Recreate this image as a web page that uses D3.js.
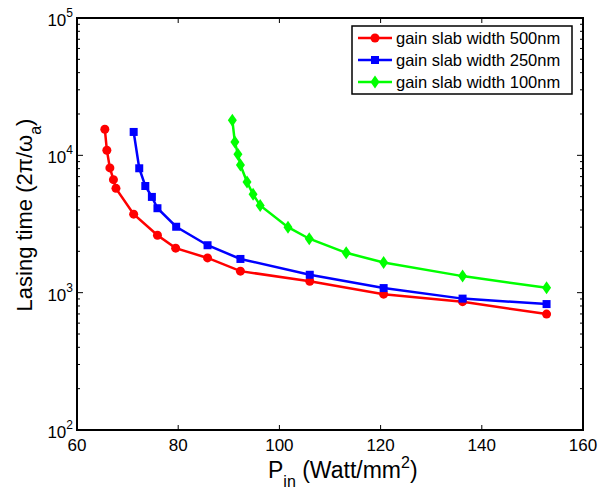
<!DOCTYPE html>
<html>
<head>
<meta charset="utf-8">
<script src="https://cdn.jsdelivr.net/npm/d3@7"></script>
<style>
  body { margin: 0; background: #fff; }
  text { font-family: "Liberation Sans", Arial, sans-serif; }
</style>
</head>
<body>
<div id="chart"></div>
<script>
// data
var red_x = [65.5, 65.9, 66.5, 67.2, 67.7, 71.2, 75.9, 79.5, 85.8, 92.3, 106.0, 120.6, 136.2, 152.8];
var red_y = [15500, 10900, 8100, 6650, 5750, 3730, 2620, 2110, 1790, 1435, 1210, 975, 860, 698];

var blue_x = [71.2, 72.3, 73.5, 74.8, 75.9, 79.6, 85.8, 92.3, 106.0, 120.6, 136.2, 152.8];
var blue_y = [14800, 8050, 5980, 4980, 4120, 3020, 2215, 1760, 1350, 1080, 905, 826];

var green_x = [90.7, 91.2, 91.8, 92.3, 93.6, 94.8, 96.2, 101.7, 105.9, 113.2, 120.6, 136.2, 152.8];
var green_y = [18000, 12500, 10200, 8500, 6400, 5200, 4320, 3000, 2470, 1950, 1660, 1320, 1085];

var series_names = ["gain slab width 500nm", "gain slab width 250nm", "gain slab width 100nm"];
var series_colors = ["#ff0000", "#0000ff", "#00ff00"];
var series_marks = ["circle", "square", "diamond"];

var x_ticks = [60, 80, 100, 120, 140, 160];
var y_decades = [2, 3, 4, 5];

var width = 600, height = 497;
var margin = {left: 77, right: 17, top: 18, bottom: 67};

var svg = d3.select("#chart").append("svg")
  .attr("width", width)
  .attr("height", height);

var x = d3.scaleLinear().domain([60, 160]).range([margin.left, width - margin.right]);
var y = d3.scaleLog().domain([100, 100000]).range([height - margin.bottom, margin.top]);

var x0 = margin.left, x1 = width - margin.right;
var y0 = height - margin.bottom, y1 = margin.top;

// ticks (inward, on all four sides)
var g = svg.append("g").attr("stroke", "#000").attr("stroke-width", 1);
x_ticks.forEach(function(t) {
  g.append("line").attr("x1", x(t)).attr("x2", x(t)).attr("y1", y0).attr("y2", y0 - 5);
  g.append("line").attr("x1", x(t)).attr("x2", x(t)).attr("y1", y1).attr("y2", y1 + 5);
});
var minor = [];
for (var e = 2; e < 5; e++) {
  for (var m = 2; m <= 9; m++) minor.push(m * Math.pow(10, e));
}
y_decades.forEach(function(d) {
  var v = Math.pow(10, d);
  g.append("line").attr("x1", x0).attr("x2", x0 + 6).attr("y1", y(v)).attr("y2", y(v));
  g.append("line").attr("x1", x1).attr("x2", x1 - 6).attr("y1", y(v)).attr("y2", y(v));
});
minor.forEach(function(v) {
  g.append("line").attr("x1", x0).attr("x2", x0 + 3).attr("y1", y(v)).attr("y2", y(v));
  g.append("line").attr("x1", x1).attr("x2", x1 - 3).attr("y1", y(v)).attr("y2", y(v));
});

// box
svg.append("rect")
  .attr("x", x0).attr("y", y1)
  .attr("width", x1 - x0).attr("height", y0 - y1)
  .attr("fill", "none").attr("stroke", "#000").attr("stroke-width", 2);

// x tick labels
svg.selectAll(".xlab").data(x_ticks).enter().append("text")
  .attr("x", function(d) { return x(d); })
  .attr("y", y0 + 21)
  .attr("text-anchor", "middle")
  .style("font-size", "17px")
  .text(function(d) { return d; });

// y tick labels 10^n
y_decades.forEach(function(d) {
  var t = svg.append("text")
    .attr("x", x0 - 4)
    .attr("y", y(Math.pow(10, d)) + 8)
    .attr("text-anchor", "end")
    .style("font-size", "17px");
  t.append("tspan").text("10");
  t.append("tspan").attr("dy", -9).style("font-size", "12px").text(d);
});

// axis labels
var xl = svg.append("text")
  .attr("x", 268)
  .attr("y", 478)
  .style("font-size", "23px");
xl.append("tspan").text("P");
xl.append("tspan").attr("dy", 9).style("font-size", "16px").text("in");
xl.append("tspan").attr("dy", -9).text(" (Watt/mm");
xl.append("tspan").attr("dy", -10).style("font-size", "16px").text("2");
xl.append("tspan").attr("dy", 10).text(")");

var yl = svg.append("text")
  .attr("transform", "translate(32,215) rotate(-90)")
  .attr("text-anchor", "middle")
  .style("font-size", "22px");
yl.append("tspan").text("Lasing time (2\u03c0/\u03c9");
yl.append("tspan").attr("dy", 9).style("font-size", "16px").text("a");
yl.append("tspan").attr("dy", -9).text(")");

// marks
function drawMark(sel, kind, color) {
  if (kind === "circle") {
    sel.append("circle").attr("r", 4.5).attr("fill", color);
  } else if (kind === "square") {
    sel.append("rect").attr("x", -4).attr("y", -4).attr("width", 8).attr("height", 8).attr("fill", color);
  } else {
    sel.append("path").attr("d", "M0,-6.5L4.5,0L0,6.5L-4.5,0Z").attr("fill", color);
  }
}

var allx = [red_x, blue_x, green_x];
var ally = [red_y, blue_y, green_y];

var line = d3.line()
  .x(function(d) { return x(d[0]); })
  .y(function(d) { return y(d[1]); });

for (var s = 0; s < 3; s++) {
  var pts = allx[s].map(function(v, i) { return [v, ally[s][i]]; });
  svg.append("path")
    .datum(pts)
    .attr("d", line)
    .attr("fill", "none")
    .attr("stroke", series_colors[s])
    .attr("stroke-width", 2.5);
  var kind = series_marks[s], col = series_colors[s];
  svg.selectAll(".m" + s).data(pts).enter().append("g")
    .attr("transform", function(d) { return "translate(" + x(d[0]) + "," + y(d[1]) + ")"; })
    .each(function() { drawMark(d3.select(this), kind, col); });
}

// legend
var lg = svg.append("g").attr("transform", "translate(352,26)");
lg.append("rect").attr("width", 220).attr("height", 68)
  .attr("fill", "#fff").attr("stroke", "#000").attr("stroke-width", 1.5);
series_names.forEach(function(name, i) {
  var yy = 12 + i * 22;
  lg.append("line").attr("x1", 6).attr("x2", 40).attr("y1", yy).attr("y2", yy)
    .attr("stroke", series_colors[i]).attr("stroke-width", 2.5);
  var mg = lg.append("g").attr("transform", "translate(23," + yy + ")");
  drawMark(mg, series_marks[i], series_colors[i]);
  lg.append("text").attr("x", 44).attr("y", yy + 6)
    .style("font-size", "16.5px").text(name);
});
</script>
</body>
</html>
